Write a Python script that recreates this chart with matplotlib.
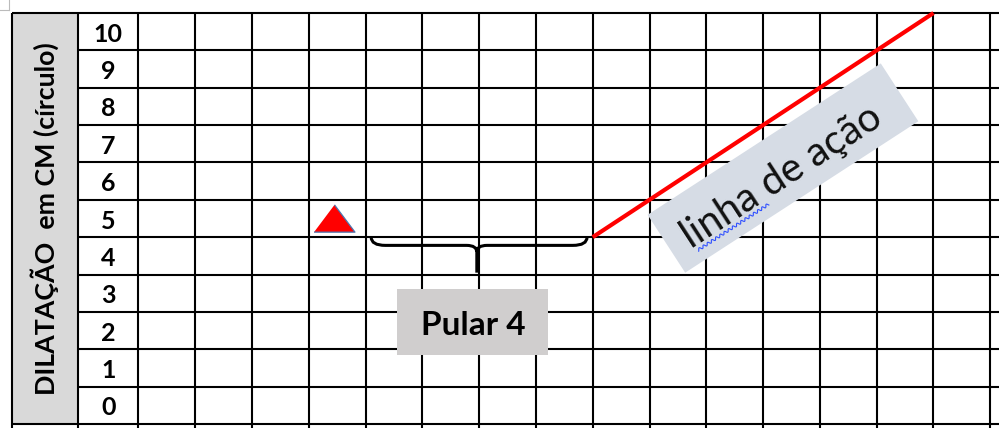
import numpy as np
import matplotlib.pyplot as plt
from matplotlib.patches import Rectangle, PathPatch
from matplotlib.path import Path
from matplotlib.transforms import Affine2D, ScaledTranslation

plt.rcParams['font.family'] = ['Lato', 'DejaVu Sans']

# linhas da tabela: dilatação (cm) e horas
dilatacao = list(range(11))
horas = list(range(16))

# dilatação observada (triângulo)
obs_hora = [3.45]
obs_dil = [5]

# linha de ação
acao_hora = [8, 14]
acao_dil = [4.5, 10.5]

# chave "Pular 4"
pular_ini, pular_fim = 4.1, 7.9

# escala da tabela (pixels da imagem)
x0_px, col_px = 138.3, 56.8
top_px, row_px = 13, 37.36
W, H = 999, 428
x_borda = (12.3 - x0_px) / col_px
x_num = (78.3 - x0_px) / col_px
y_top = dilatacao[-1] + 0.5
y_bot = dilatacao[0] - 0.5

fig = plt.figure(figsize=(W / 100, H / 100), dpi=100)
ax = fig.add_axes([0, 0, 1, 1])
ax.set_xlim(-x0_px / col_px, (W - x0_px) / col_px)
ax.set_ylim(y_top - (H - top_px) / row_px, y_top + top_px / row_px)
ax.axis('off')

# coluna cinza do titulo
ax.add_patch(Rectangle((x_borda, y_bot), x_num - x_borda, y_top - y_bot,
                       facecolor='#d9d9d9', edgecolor='none', zorder=0))

lw = 1.5
ymin = ax.get_ylim()[0]
for x in [x_borda, x_num] + horas:
    ax.plot([x, x], [y_top, ymin], color='black', lw=lw, zorder=1,
            solid_capstyle='butt')
xmax = ax.get_xlim()[1]
for d in dilatacao:
    y = d + 0.5
    x_ini = x_borda if d == dilatacao[-1] else x_num
    ax.plot([x_ini, xmax], [y, y], color='black', lw=lw, zorder=1,
            solid_capstyle='butt')
ax.plot([x_borda, xmax], [y_bot, y_bot], color='black', lw=lw, zorder=1,
        solid_capstyle='butt')

# numeros da dilatação
for d in dilatacao:
    ax.text((x_num + 0) / 2, d - 0.27, str(d), ha='center', va='baseline',
            fontsize=18, fontweight='bold', zorder=5)

ax.text(-1.467, (y_top + y_bot) / 2, 'DILATAÇÃO  em CM (círculo)',
        rotation=90, rotation_mode='anchor', ha='center', va='baseline',
        fontsize=19.3, fontweight='bold', zorder=5)

# linha de ação
ax.plot(acao_hora, acao_dil, color='#ff0000', lw=3, zorder=3,
        solid_capstyle='butt')

# triângulo
tri = [(-1.5, -1), (1.5, -1), (0, 1)]
ax.plot(obs_hora, obs_dil, linestyle='none', marker=tri, markersize=29.5,
        markerfacecolor='#ff0000', markeredgecolor='#4a76b0',
        markeredgewidth=0.9, zorder=4)

# chave
ym, yb, rx, ry = 4.28, 3.55, 0.25, 0.2
xc = (pular_ini + pular_fim) / 2 - 0.04
verts = [(pular_ini, y_top - 6), (pular_ini, ym), (pular_ini + rx, ym),
         (xc - 0.18, ym), (xc, ym), (xc, ym - ry * 0.9),
         (xc, yb),
         (xc, ym - ry * 0.9), (xc, ym), (xc + 0.18, ym),
         (pular_fim - rx, ym), (pular_fim, ym), (pular_fim, y_top - 6)]
codes = [Path.MOVETO, Path.CURVE3, Path.CURVE3,
         Path.LINETO, Path.CURVE3, Path.CURVE3,
         Path.LINETO,
         Path.MOVETO, Path.CURVE3, Path.CURVE3,
         Path.LINETO, Path.CURVE3, Path.CURVE3]
ax.add_patch(PathPatch(Path(verts, codes), facecolor='none',
                       edgecolor='black', lw=2.2, zorder=3))

# caixa "Pular 4"
ax.add_patch(Rectangle((4.555, 1.346), 7.213 - 4.555, 3.112 - 1.346,
                       facecolor='#d0cece', edgecolor='none', zorder=4))
ax.text(5.90, 1.881, 'Pular 4', ha='center', va='baseline', fontsize=24,
        fontweight='bold', zorder=5)

# caixa "linha de ação" (girada)
ang = 33
rot = (fig.dpi_scale_trans + Affine2D().rotate_deg(ang)
       + ScaledTranslation(11.35, 6.35, ax.transData))
ax.add_patch(Rectangle((-1.39, -0.345), 2.78, 0.69, facecolor='#d6dce5',
                       edgecolor='none', transform=rot, zorder=4))
ax.text(-0.06, -0.18, 'linha de ação', transform=rot, rotation=ang,
        rotation_mode='anchor', ha='center', va='baseline', fontsize=29,
        color='#111111', zorder=5)
t = np.linspace(-1.16, -0.32, 120)
ax.plot(t, -0.225 + 0.014 * np.sin(2 * np.pi * t / 0.05), color='#3050ff',
        lw=0.8, transform=rot, zorder=5)

# marca do canto
fig.add_artist(plt.Line2D([9 / W, 9 / W], [1, 1 - 10 / H], color='#bbbbbb',
                          lw=0.8))
fig.add_artist(plt.Line2D([0, 9 / W], [1 - 10 / H, 1 - 10 / H],
                          color='#bbbbbb', lw=0.8))

fig.savefig('out.png', dpi=100)
